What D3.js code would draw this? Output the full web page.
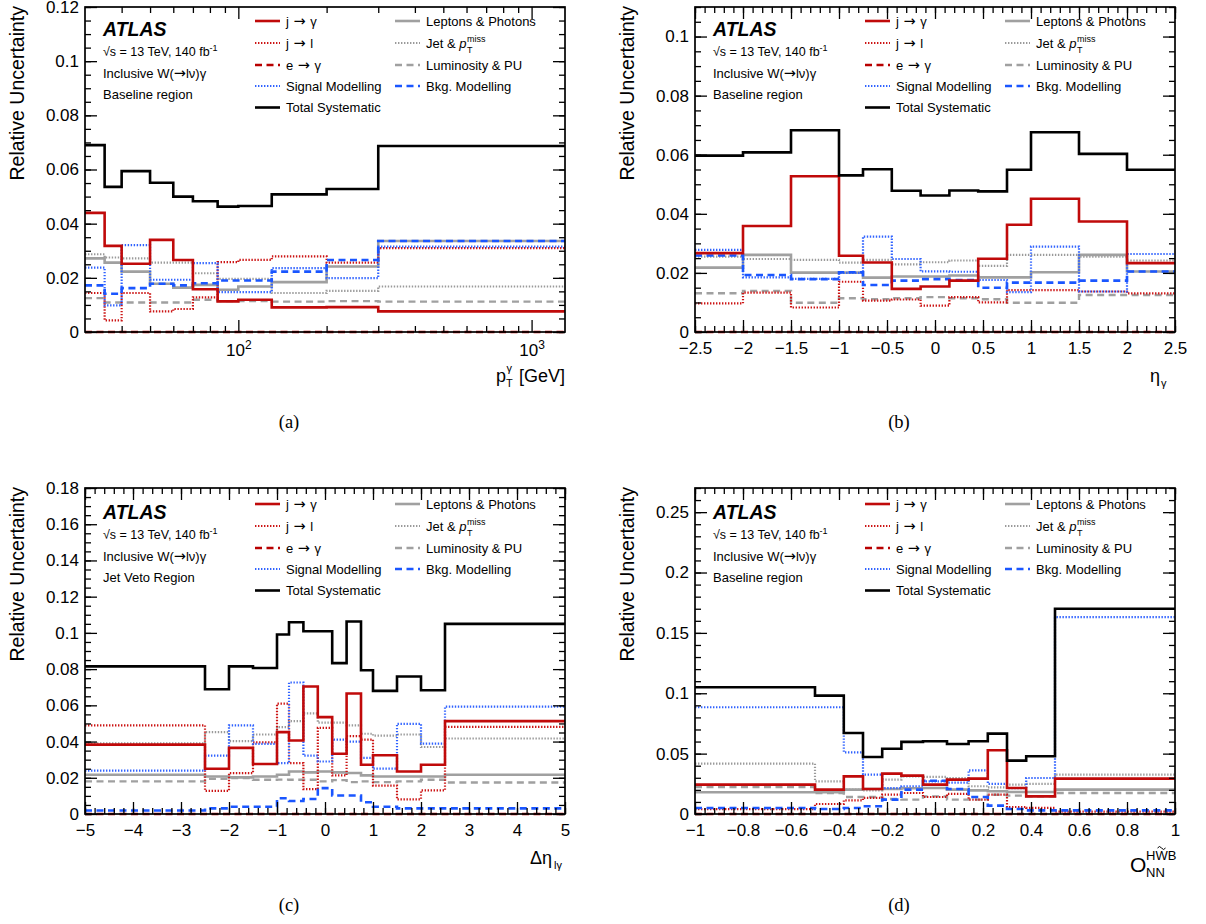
<!DOCTYPE html>
<html>
<head>
<meta charset="utf-8">
<script src="https://cdn.jsdelivr.net/npm/d3@7"></script>
<style>
  body { margin: 0; background: #fff; }
  svg { display: block; }
  text { fill: #000; }
</style>
</head>
<body>
<svg id="fig" width="1206" height="924"></svg>
<script>
// ---------- (a) photon transverse momentum ----------
const ptEdges      = [30, 35, 40, 50, 60, 70, 85, 100, 130, 200, 300, 1300];
const ptJetPhoton  = [0.0440, 0.0318, 0.0252, 0.0340, 0.0266, 0.0158, 0.0113, 0.0119, 0.0091, 0.0092, 0.0076];
const ptJetLepton  = [0.0144, 0.0043, 0.0144, 0.0076, 0.0085, 0.0128, 0.0258, 0.0266, 0.0279, 0.0256, 0.0310];
const ptElePhoton  = [0, 0, 0, 0, 0, 0, 0, 0, 0, 0, 0];
const ptSignal     = [0.0238, 0.0098, 0.0321, 0.0193, 0.0193, 0.0254, 0.0147, 0.0147, 0.0236, 0.0199, 0.0315];
const ptTotal      = [0.0690, 0.0536, 0.0594, 0.0551, 0.0500, 0.0483, 0.0463, 0.0465, 0.0508, 0.0528, 0.0687];
const ptLepPhot    = [0.0272, 0.0256, 0.0223, 0.0178, 0.0164, 0.0174, 0.0156, 0.0168, 0.0184, 0.0242, 0.0336];
const ptJetMet     = [0.0287, 0.0275, 0.0272, 0.0256, 0.0256, 0.0217, 0.0196, 0.0196, 0.0144, 0.0152, 0.0168];
const ptLumiPU     = [0.0125, 0.0109, 0.0109, 0.0109, 0.0109, 0.0119, 0.0114, 0.0114, 0.0112, 0.0114, 0.0112];
const ptBkg        = [0.0172, 0.0141, 0.0162, 0.0178, 0.0172, 0.0180, 0.0190, 0.0190, 0.0223, 0.0266, 0.0336];

// ---------- (b) photon pseudorapidity ----------
const etaEdges     = [-2.5, -2, -1.5, -1, -0.75, -0.45, -0.15, 0.15, 0.45, 0.75, 1, 1.5, 2, 2.5];
const etaJetPhoton = [0.0267, 0.0359, 0.0527, 0.0258, 0.0235, 0.0146, 0.0154, 0.0174, 0.0248, 0.0363, 0.0451, 0.0374, 0.0233];
const etaJetLepton = [0.0097, 0.0133, 0.0083, 0.0170, 0.0106, 0.0110, 0.0089, 0.0118, 0.0100, 0.0142, 0.0142, 0.0137, 0.0131];
const etaElePhoton = [0, 0, 0, 0, 0, 0, 0, 0, 0, 0, 0, 0, 0];
const etaSignal    = [0.0278, 0.0185, 0.0180, 0.0200, 0.0323, 0.0247, 0.0205, 0.0204, 0.0176, 0.0135, 0.0289, 0.0137, 0.0264];
const etaTotal     = [0.0597, 0.0608, 0.0683, 0.0530, 0.0551, 0.0478, 0.0462, 0.0479, 0.0476, 0.0549, 0.0676, 0.0603, 0.0549];
const etaLepPhot   = [0.0218, 0.0261, 0.0201, 0.0201, 0.0184, 0.0188, 0.0188, 0.0191, 0.0185, 0.0185, 0.0202, 0.0261, 0.0205];
const etaJetMet    = [0.0255, 0.0247, 0.0244, 0.0235, 0.0244, 0.0229, 0.0236, 0.0242, 0.0224, 0.0261, 0.0261, 0.0255, 0.0242];
const etaLumiPU    = [0.0131, 0.0139, 0.0099, 0.0114, 0.0111, 0.0114, 0.0118, 0.0114, 0.0111, 0.0099, 0.0099, 0.0125, 0.0125];
const etaBkg       = [0.0259, 0.0193, 0.0179, 0.0202, 0.0159, 0.0174, 0.0179, 0.0176, 0.0150, 0.0167, 0.0167, 0.0174, 0.0205];

// ---------- (c) lepton-photon rapidity separation ----------
const detaEdges     = [-5, -2.5, -2, -1.5, -1, -0.75, -0.45, -0.15, 0.15, 0.45, 0.75, 1, 1.5, 2, 2.5, 5];
const detaJetPhoton = [0.0383, 0.0250, 0.0365, 0.0276, 0.0452, 0.0406, 0.0704, 0.0535, 0.0333, 0.0665, 0.0272, 0.0324, 0.0235, 0.0272, 0.0513];
const detaJetLepton = [0.0489, 0.0128, 0.0226, 0.0396, 0.0609, 0.0281, 0.0137, 0.0476, 0.0213, 0.0430, 0.0411, 0.0157, 0.0081, 0.0130, 0.0481];
const detaElePhoton = [0, 0, 0, 0, 0, 0, 0, 0, 0, 0, 0, 0, 0, 0, 0];
const detaSignal    = [0.0239, 0.0322, 0.0489, 0.0387, 0.0281, 0.0726, 0.0322, 0.0290, 0.0411, 0.0400, 0.0310, 0.0250, 0.0498, 0.0389, 0.0593];
const detaTotal     = [0.0815, 0.0689, 0.0815, 0.0806, 0.0991, 0.1059, 0.1009, 0.1009, 0.0833, 0.1063, 0.0794, 0.0680, 0.0759, 0.0683, 0.1050];
const detaLepPhot   = [0.0217, 0.0207, 0.0202, 0.0207, 0.0217, 0.0235, 0.0230, 0.0235, 0.0230, 0.0226, 0.0213, 0.0207, 0.0207, 0.0207, 0.0217];
const detaJetMet    = [0.0390, 0.0452, 0.0402, 0.0439, 0.0480, 0.0513, 0.0556, 0.0504, 0.0504, 0.0489, 0.0443, 0.0433, 0.0439, 0.0370, 0.0417];
const detaLumiPU    = [0.0180, 0.0194, 0.0198, 0.0189, 0.0190, 0.0189, 0.0189, 0.0180, 0.0187, 0.0176, 0.0180, 0.0176, 0.0180, 0.0189, 0.0174];
const detaBkg       = [0.0019, 0.0031, 0.0040, 0.0040, 0.0087, 0.0072, 0.0083, 0.0143, 0.0102, 0.0102, 0.0065, 0.0040, 0.0031, 0.0031, 0.0031];

// ---------- (d) neural-network observable ----------
const onnEdges     = [-1, -0.5, -0.38, -0.3, -0.22, -0.14, -0.05, 0.05, 0.14, 0.22, 0.3, 0.38, 0.5, 1];
const onnJetPhoton = [0.0243, 0.0202, 0.0312, 0.0207, 0.0334, 0.0318, 0.0243, 0.0285, 0.0293, 0.0528, 0.0215, 0.0146, 0.0293];
const onnJetLepton = [0.0041, 0.0083, 0.0113, 0.0133, 0.0160, 0.0174, 0.0141, 0.0166, 0.0119, 0.0160, 0.0058, 0.0050, 0.0020];
const onnElePhoton = [0, 0, 0, 0, 0, 0, 0, 0, 0, 0, 0, 0, 0];
const onnSignal    = [0.0884, 0.0884, 0.0511, 0.0326, 0.0215, 0.0230, 0.0270, 0.0260, 0.0362, 0.0250, 0.0215, 0.0298, 0.1630];
const onnTotal     = [0.1050, 0.0980, 0.0671, 0.0472, 0.0541, 0.0597, 0.0602, 0.0580, 0.0602, 0.0666, 0.0442, 0.0478, 0.1700];
const onnLepPhot   = [0.0180, 0.0180, 0.0202, 0.0207, 0.0207, 0.0213, 0.0215, 0.0202, 0.0196, 0.0188, 0.0182, 0.0182, 0.0202];
const onnJetMet    = [0.0417, 0.0271, 0.0202, 0.0195, 0.0285, 0.0312, 0.0307, 0.0298, 0.0230, 0.0220, 0.0243, 0.0250, 0.0326];
const onnLumiPU    = [0.0224, 0.0174, 0.0141, 0.0141, 0.0124, 0.0119, 0.0146, 0.0119, 0.0119, 0.0160, 0.0152, 0.0146, 0.0174];
const onnBkg       = [0.0050, 0.0041, 0.0050, 0.0064, 0.0119, 0.0202, 0.0276, 0.0207, 0.0141, 0.0069, 0.0041, 0.0030, 0.0030];

// ---------- line styles of the uncertainty groups ----------
const DOT = "1.4,1.6", DASH = "7,4.5";
const styles = {
  jetPhoton: { color: "#c00a0a", dash: null, width: 2.6 },
  jetLepton: { color: "#cc1414", dash: DOT,  width: 2.2 },
  elePhoton: { color: "#b80000", dash: DASH, width: 2.4 },
  signal:    { color: "#2f62ff", dash: DOT,  width: 2.2 },
  total:     { color: "#000000", dash: null, width: 2.6 },
  lepPhot:   { color: "#a0a0a0", dash: null, width: 2.6 },
  jetMet:    { color: "#9a9a9a", dash: DOT,  width: 2.2 },
  lumiPU:    { color: "#a0a0a0", dash: DASH, width: 2.4 },
  bkg:       { color: "#1a56ff", dash: DASH, width: 2.6 }
};
const drawOrder = ["lumiPU", "jetMet", "lepPhot", "jetLepton", "signal", "bkg", "jetPhoton", "elePhoton", "total"];
const legendCol1 = ["jetPhoton", "jetLepton", "elePhoton", "signal", "total"];
const legendCol2 = ["lepPhot", "jetMet", "lumiPU", "bkg"];

const panels = [
  { caption: "(a)", left: 85,  top: 7,   w: 480, h: 325, log: true,  xDomain: [30, 1300],
    edges: ptEdges, yMax: 0.12, yStep: 0.02, yMinorN: 4, region: "Baseline region", title: "pt",
    series: { jetPhoton: ptJetPhoton, jetLepton: ptJetLepton, elePhoton: ptElePhoton, signal: ptSignal,
              total: ptTotal, lepPhot: ptLepPhot, jetMet: ptJetMet, lumiPU: ptLumiPU, bkg: ptBkg } },
  { caption: "(b)", left: 695, top: 7,   w: 480, h: 325, log: false, xDomain: [-2.5, 2.5], xStep: 0.5, xMinorN: 5,
    edges: etaEdges, yMax: 0.11, yStep: 0.02, yMinorN: 4, region: "Baseline region", title: "eta",
    series: { jetPhoton: etaJetPhoton, jetLepton: etaJetLepton, elePhoton: etaElePhoton, signal: etaSignal,
              total: etaTotal, lepPhot: etaLepPhot, jetMet: etaJetMet, lumiPU: etaLumiPU, bkg: etaBkg } },
  { caption: "(c)", left: 85,  top: 488, w: 480, h: 326, log: false, xDomain: [-5, 5], xStep: 1, xMinorN: 5,
    edges: detaEdges, yMax: 0.18, yStep: 0.02, yMinorN: 4, region: "Jet Veto Region", title: "deta",
    series: { jetPhoton: detaJetPhoton, jetLepton: detaJetLepton, elePhoton: detaElePhoton, signal: detaSignal,
              total: detaTotal, lepPhot: detaLepPhot, jetMet: detaJetMet, lumiPU: detaLumiPU, bkg: detaBkg } },
  { caption: "(d)", left: 695, top: 488, w: 480, h: 326, log: false, xDomain: [-1, 1], xStep: 0.2, xMinorN: 5,
    edges: onnEdges, yMax: 0.27, yStep: 0.05, yMinorN: 5, region: "Baseline region", title: "onn",
    series: { jetPhoton: onnJetPhoton, jetLepton: onnJetLepton, elePhoton: onnElePhoton, signal: onnSignal,
              total: onnTotal, lepPhot: onnLepPhot, jetMet: onnJetMet, lumiPU: onnLumiPU, bkg: onnBkg } }
];

const SANS = "'Liberation Sans', Arial, Helvetica, sans-serif";
const SERIF = "'Liberation Serif', 'Times New Roman', serif";
const ARROW_FONT = "'DejaVu Sans', sans-serif";

const svg = d3.select("#fig").style("font-family", SANS);
svg.append("rect").attr("width", 1206).attr("height", 924).attr("fill", "#fff");

const TICK_FS = 17, MAJ = 12, MIN = 6;

function numFmt(v) {
  if (Math.abs(v) < 1e-9) return "0";
  const s = String(+Math.abs(v).toFixed(3));
  return (v < 0 ? "\u2212" : "") + s;
}
function steps(lo, hi, step) {
  const n = Math.round((hi - lo) / step + 1e-6);
  return d3.range(n + 1).map(i => +(lo + i * step).toFixed(6));
}
function styleAxis(sel) {
  sel.select(".domain").remove();
  sel.selectAll(".tick line").attr("stroke", "#000").attr("stroke-width", 1.3);
  sel.selectAll(".tick text").attr("font-size", TICK_FS).attr("fill", "#000").style("font-family", SANS);
}
// text with arrows drawn in a font whose arrow is long enough
function arrowText(t, parts) {
  parts.forEach(s => {
    if (s === "\u2192") t.append("tspan").style("font-family", ARROW_FONT).attr("font-size", 14.5).text(" \u2192 ");
    else t.append("tspan").text(s);
  });
}

function writeLabel(g, key, x, y) {
  const t = g.append("text").attr("x", x).attr("y", y).attr("font-size", 13);
  const simple = {
    signal: "Signal Modelling", total: "Total Systematic", lepPhot: "Leptons & Photons",
    lumiPU: "Luminosity & PU", bkg: "Bkg. Modelling"
  };
  if (key === "jetPhoton") { arrowText(t, ["j", "\u2192", "\u03b3"]); return; }
  if (key === "jetLepton") { arrowText(t, ["j", "\u2192", "l"]); return; }
  if (key === "elePhoton") { arrowText(t, ["e", "\u2192", "\u03b3"]); return; }
  if (key !== "jetMet") { t.text(simple[key]); return; }
  t.append("tspan").text("Jet & ");
  t.append("tspan").attr("font-style", "italic").text("p");
  const end = x + t.node().getComputedTextLength() + 0.5;
  g.append("text").attr("x", end).attr("y", y + 5).attr("font-size", 9).text("T");
  g.append("text").attr("x", end).attr("y", y - 6).attr("font-size", 9).text("miss");
}

function drawPanel(p) {
  const g = svg.append("g").attr("transform", `translate(${p.left},${p.top})`);
  const x = (p.log ? d3.scaleLog() : d3.scaleLinear()).domain(p.xDomain).range([0, p.w]);
  const y = d3.scaleLinear().domain([0, p.yMax]).range([p.h, 0]);
  const base = 332 - p.top + (p.top > 100 ? 482 - 0 : 0) - (p.top > 100 ? 0 : 0);

  // step histograms of each uncertainty group
  const line = d3.line().x(d => x(d[0])).y(d => y(d[1])).curve(d3.curveStepAfter);
  drawOrder.forEach(key => {
    const vals = p.series[key], st = styles[key];
    const pts = p.edges.map((e, i) => [e, vals[Math.min(i, vals.length - 1)]]);
    g.append("path").attr("d", line(pts)).attr("fill", "none")
      .attr("stroke", st.color).attr("stroke-width", st.width)
      .attr("stroke-dasharray", st.dash).attr("stroke-linecap", "butt");
  });

  // y axes (labels left, mirrored ticks right)
  const yMaj = steps(0, p.yMax, p.yStep).filter(v => v <= p.yMax + 1e-9);
  const yMin = steps(0, p.yMax, p.yStep / p.yMinorN).filter(v => v <= p.yMax + 1e-9);
  g.append("g").call(d3.axisLeft(y).tickValues(yMin).tickSize(-MIN).tickFormat("")).call(styleAxis);
  g.append("g").call(d3.axisLeft(y).tickValues(yMaj).tickSize(-MAJ).tickPadding(6).tickFormat(numFmt)).call(styleAxis);
  const gr = g.append("g").attr("transform", `translate(${p.w},0)`);
  gr.append("g").call(d3.axisRight(y).tickValues(yMin).tickSize(-MIN).tickFormat("")).call(styleAxis);
  gr.append("g").call(d3.axisRight(y).tickValues(yMaj).tickSize(-MAJ).tickFormat("")).call(styleAxis);

  // x axes (labels bottom, mirrored ticks top)
  let xMaj, xMin;
  if (p.log) {
    xMaj = [100, 1000];
    xMin = [40, 50, 60, 70, 80, 90, 200, 300, 400, 500, 600, 700, 800, 900];
  } else {
    xMaj = steps(p.xDomain[0], p.xDomain[1], p.xStep);
    xMin = steps(p.xDomain[0], p.xDomain[1], p.xStep / p.xMinorN);
  }
  const gb = g.append("g").attr("transform", `translate(0,${p.h})`);
  gb.append("g").call(d3.axisBottom(x).tickValues(xMin).tickSize(-MIN).tickFormat("")).call(styleAxis);
  const gbm = gb.append("g").call(d3.axisBottom(x).tickValues(xMaj).tickSize(-MAJ)
      .tickPadding(p.log ? 12 : 10).tickFormat(p.log ? () => "" : numFmt)).call(styleAxis);
  if (p.log) {
    gbm.selectAll(".tick text").each(function (d) {
      const t = d3.select(this);
      t.append("tspan").text("10");
      t.append("tspan").attr("dy", -7).attr("font-size", 12).text(Math.round(Math.log10(d)));
    });
  }
  g.append("g").call(d3.axisTop(x).tickValues(xMin).tickSize(-MIN).tickFormat("")).call(styleAxis);
  g.append("g").call(d3.axisTop(x).tickValues(xMaj).tickSize(-MAJ).tickFormat("")).call(styleAxis);

  // frame
  g.append("rect").attr("width", p.w).attr("height", p.h).attr("fill", "none")
    .attr("stroke", "#000").attr("stroke-width", 1.7);

  // y-axis title
  g.append("text").attr("transform", `translate(${-61},${-1}) rotate(-90)`)
    .attr("text-anchor", "end").attr("font-size", 19.5).text("Relative Uncertainty");

  // x-axis titles
  const tb = p.h + 50;
  if (p.title === "pt") {
    g.append("text").attr("x", 411).attr("y", tb).attr("font-size", 18).text("p");
    g.append("text").attr("x", 421).attr("y", tb + 5).attr("font-size", 11).text("T");
    g.append("text").attr("x", 421.5).attr("y", tb - 10).attr("font-size", 11).text("\u03b3");
    g.append("text").attr("x", p.w).attr("y", tb).attr("text-anchor", "end").attr("font-size", 18).text("[GeV]");
  } else if (p.title === "eta") {
    g.append("text").attr("x", 455).attr("y", tb).attr("font-size", 18).text("\u03b7");
    g.append("text").attr("x", 466).attr("y", tb + 5).attr("font-size", 11).text("\u03b3");
  } else if (p.title === "deta") {
    g.append("text").attr("x", 445).attr("y", tb).attr("font-size", 18).text("\u0394\u03b7");
    g.append("text").attr("x", 469).attr("y", tb + 5).attr("font-size", 11).text("l\u03b3");
  } else {
    g.append("text").attr("x", 435).attr("y", tb + 8).attr("font-size", 21).text("O");
    g.append("text").attr("x", 451).attr("y", tb + 13).attr("font-size", 13).text("NN");
    const sup = g.append("text").attr("x", 451).attr("y", tb - 4).attr("font-size", 13).text("HWB");
    const wx = 451 + sup.node().getSubStringLength(0, 1);
    const ww = sup.node().getSubStringLength(1, 1);
    // tilde over the W, drawn as a short wave
    const tx = wx + ww / 2, ty = tb - 17;
    g.append("path")
      .attr("d", `M${tx - 4},${ty + 1} q2,-3 4,0 t4,0`)
      .attr("fill", "none").attr("stroke", "#000").attr("stroke-width", 1);
  }

  // caption
  svg.append("text").attr("x", p.left + 204).attr("y", p.top + (p.top > 100 ? 423 : 421))
    .attr("text-anchor", "middle").style("font-family", SERIF).attr("font-size", 18.5).text(p.caption);

  // experiment label block
  const ly = 5 - p.top + (p.top > 100 ? 482 + 1 - 482 + p.top - 488 + 0 : 0);
  const lb = g.append("g").attr("transform", `translate(0,${p.top > 100 ? 0 : -2})`);
  lb.append("text").attr("x", 18).attr("y", 31).attr("font-size", 19.5).attr("font-weight", "bold")
    .attr("font-style", "italic").text("ATLAS");
  const en = lb.append("text").attr("x", 18).attr("y", 51).attr("font-size", 12.5);
  en.append("tspan").text("\u221as = 13 TeV, 140 fb");
  en.append("tspan").attr("dy", -5).attr("font-size", 9).text("-1");
  const inc = lb.append("text").attr("x", 18).attr("y", 73).attr("font-size", 13);
  arrowText(inc, ["Inclusive W(", "\u2192", "l\u03bd)\u03b3"]);
  inc.selectAll("tspan").filter((d, i) => i === 1).text("\u2192");
  lb.append("text").attr("x", 18).attr("y", 93.5).attr("font-size", 13).text(p.region);

  // legend
  const rows = [16, 38, 60, 81, 102.5];
  const col = (keys, x0) => keys.forEach((k, i) => {
    const st = styles[k];
    lb.append("line").attr("x1", x0).attr("x2", x0 + 25).attr("y1", rows[i]).attr("y2", rows[i])
      .attr("stroke", st.color).attr("stroke-width", st.width).attr("stroke-dasharray", st.dash);
    writeLabel(lb, k, x0 + 31, rows[i] + 4.6);
  });
  col(legendCol1, 170);
  col(legendCol2, 310);
}

panels.forEach(drawPanel);
</script>
</body>
</html>
